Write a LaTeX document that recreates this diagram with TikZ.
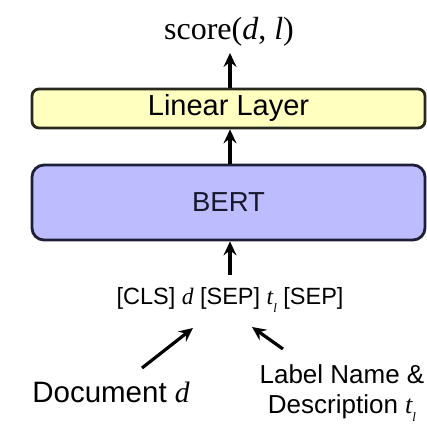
\documentclass[tikz,border=0pt]{standalone}
\usepackage{fontspec}
\setmainfont{Liberation Sans}
\newfontfamily\serifrm{Liberation Serif}
\usetikzlibrary{arrows.meta}
\definecolor{layeryellow}{RGB}{255,255,192}
\definecolor{bertblue}{RGB}{188,188,255}
\definecolor{bertedge}{RGB}{30,30,55}
\definecolor{layeredge}{RGB}{40,40,30}
\newcommand{\mi}[1]{{\serifrm\itshape #1}}
\newcommand{\lsub}[1]{\raisebox{-0.3em}{\fontsize{13}{14}\selectfont\serifrm\itshape #1}}
\begin{document}
\begin{tikzpicture}[x=1pt,y=-1pt,
  layerbox/.style={draw=layeredge,line width=2.8pt,fill=layeryellow,rounded corners=7pt,
    minimum width=393pt,minimum height=39pt,inner sep=0pt,font=\fontsize{29}{32}\selectfont},
  bertbox/.style={draw=bertedge,line width=2.8pt,fill=bertblue,rounded corners=12pt,
    minimum width=393pt,minimum height=75pt,inner sep=0pt,font=\fontsize{27.5}{30}\selectfont,text=bertedge!80!black},
  flow/.style={line width=3.2pt,-{Stealth[length=14pt,width=13pt,inset=5pt]}},
  plain/.style={inner sep=0pt,align=center}]
\useasboundingbox (0,0) rectangle (426,428);
\coordinate (axis) at (230,0);
% output score
\node[plain,font=\serifrm\fontsize{32}{34}\selectfont] (score) at (229,32) {score(\textit{d}, \textit{l})};
% stacked model blocks
\node[layerbox] (linear) at (228.5,108.5) {Linear Layer};
\node[bertbox] (bert) at (228.5,202.5) {BERT};
% input token sequence
\node[plain,font=\fontsize{23.5}{26}\selectfont] (tokens) at (230,300) {[CLS] \mi{d} [SEP] \mi{t}\lsub{l} [SEP]};
% input sources
\node[plain,font=\fontsize{29.5}{32}\selectfont] (doc) at (111,392) {Document \mi{d}};
\node[plain,font=\fontsize{26}{30}\selectfont] (lab) at (342,393) {Label Name \&\\Description \mi{t}\lsub{l}};
\coordinate (docTail) at (142,368);
\coordinate (docHead) at (193,328);
\coordinate (labTail) at (283,349);
\coordinate (labHead) at (252,327);
\coordinate (tokTop) at (230,275);
\coordinate (scoreBot) at (230,53);
% connectors
\draw[flow] (tokTop) -- (bert.south -| axis);
\draw[flow] (bert.north -| axis) -- (linear.south -| axis);
\draw[flow] (linear.north -| axis) -- (scoreBot);
\draw[flow] (docTail) -- (docHead);
\draw[flow] (labTail) -- (labHead);
\end{tikzpicture}
\end{document}
